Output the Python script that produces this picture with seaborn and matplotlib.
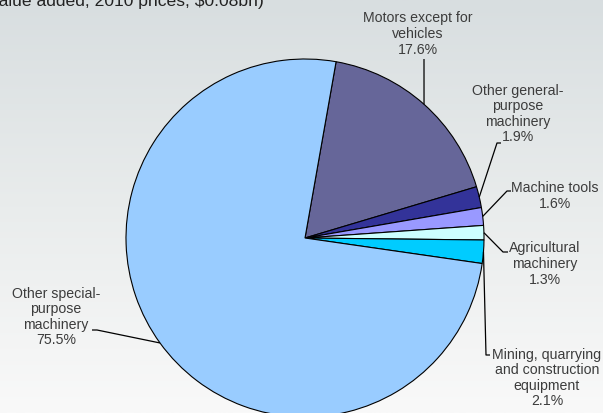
import matplotlib
matplotlib.use("Agg")
import matplotlib.pyplot as plt
import numpy as np
import seaborn as sns

# data
categories = [
    "Motors except for\nvehicles",
    "Other general-\npurpose\nmachinery",
    "Machine tools",
    "Agricultural\nmachinery",
    "Mining, quarrying\nand construction\nequipment",
    "Other special-\npurpose\nmachinery",
]
shares = [17.6, 1.9, 1.6, 1.3, 2.1, 75.5]
slice_colors = ["#666699", "#333399", "#9999ff", "#ccffff", "#00ccff", "#99ccff"]
subtitle = "(value added, 2010 prices, $0.08bn)"

# label layout in pixel coords (x right, y down): text centre, leader elbow, tick end
label_layout = [
    ((418, 34), (424, 59), (424, 59)),
    ((518, 114), (497, 143), (501, 143)),
    ((555, 196), (507, 191), (511, 191)),
    ((545, 264), (503, 252), (508, 252)),
    ((547, 378), (486, 355), (490, 355)),
    ((56, 317), (97, 330), (92, 330)),
]

W, H = 603, 413
CENTER = (305, 238)
RADIUS = 179

sns.set_theme(style="white")
plt.rcParams["font.family"] = ["Liberation Sans", "DejaVu Sans"]

fig = plt.figure(figsize=(W / 100, H / 100), dpi=100)

# background gradient
bg = fig.add_axes([0, 0, 1, 1])
grad = np.linspace(0, 1, 256).reshape(-1, 1)
bg_cmap = matplotlib.colors.LinearSegmentedColormap.from_list("bg", ["#d8dee0", "#e9ecec", "#f9f9f9"])
bg.imshow(grad, aspect="auto", cmap=bg_cmap, extent=[0, 1, 0, 1], origin="upper")
bg.set_axis_off()

ax = fig.add_axes([0, 0, 1, 1])
ax.patch.set_alpha(0)

cx, cy = CENTER[0], H - CENTER[1]
wedges, _ = ax.pie(
    shares,
    colors=slice_colors,
    startangle=80,
    counterclock=False,
    center=(cx, cy),
    radius=RADIUS,
    wedgeprops={"edgecolor": "black", "linewidth": 0.8},
)
ax.set_xlim(0, W)
ax.set_ylim(0, H)
ax.set_aspect("auto")
ax.set_axis_off()

text_color = "#3c3c3c"
for wedge, name, value, (text_xy, elbow, tick) in zip(wedges, categories, shares, label_layout):
    mid = np.deg2rad((wedge.theta1 + wedge.theta2) / 2)
    edge = (cx + RADIUS * np.cos(mid), cy + RADIUS * np.sin(mid))
    xs = [edge[0], elbow[0], tick[0]]
    ys = [edge[1], H - elbow[1], H - tick[1]]
    ax.plot(xs, ys, color="black", linewidth=0.9, solid_capstyle="butt")
    ax.text(
        text_xy[0], H - text_xy[1], f"{name}\n{value:.1f}%",
        ha="center", va="center", fontsize=10.2, color=text_color, linespacing=1.15,
    )

# the reference shows this line clipped at the top-left edge
fig.text(-16 / W, 1 - 6 / H, subtitle, ha="left", va="baseline", fontsize=12.6, color="#222222")

fig.savefig("out.png", dpi=100)
